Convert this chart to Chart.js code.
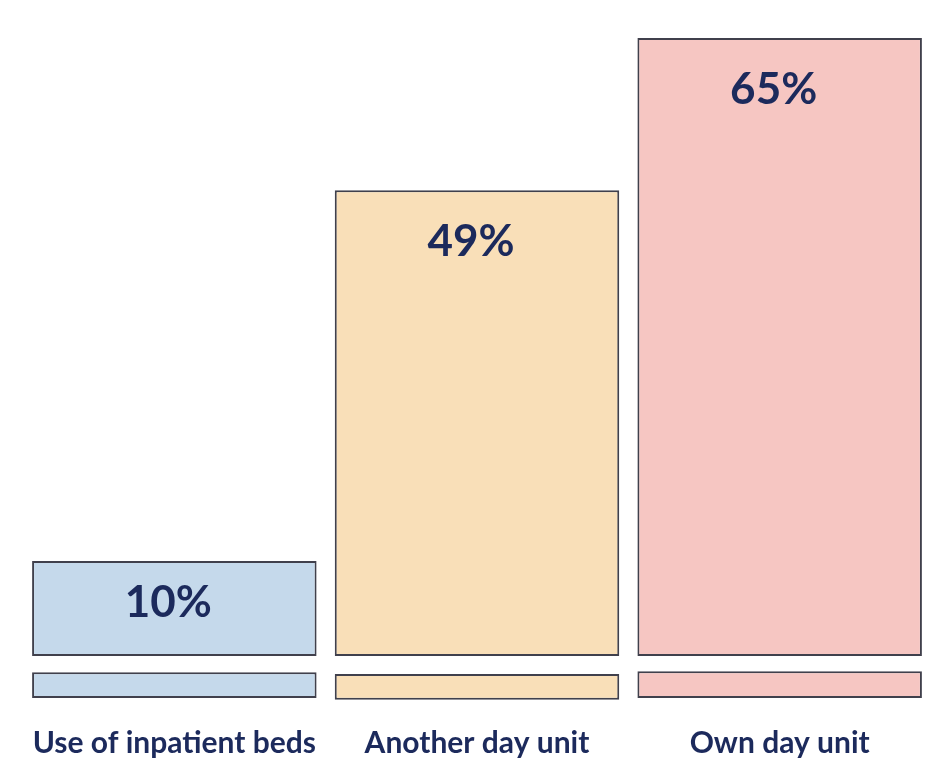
<!DOCTYPE html>
<html>
<head>
<meta charset="utf-8">
<script src="https://cdn.jsdelivr.net/npm/chart.js@4.4.1/dist/chart.umd.min.js"></script>
<style>
html,body{margin:0;padding:0;background:#ffffff;}
#wrap{width:933px;height:765px;position:relative;}
</style>
</head>
<body>
<div id="wrap"><canvas id="c" width="933" height="765"></canvas></div>
<script>
const categories = ["Use of inpatient beds", "Another day unit", "Own day unit"];
const percentValues = [10, 49, 65];
const baseBoxes = [[-1.7, -4.4], [-1.9, -4.6], [-1.6, -4.4]];
const fillColors = ["#c5d9eb", "#f9dfb8", "#f6c6c2"];
const edgeColor = "#40404c";
const textColor = "#1c2a5c";

const valueLabels = {
  id: 'valueLabels',
  afterDatasetsDraw(chart) {
    const ctx = chart.ctx;
    const meta = chart.getDatasetMeta(0);
    ctx.save();
    ctx.font = 'bold 44px Lato, "Open Sans", sans-serif';
    ctx.fillStyle = textColor;
    ctx.textAlign = 'center';
    ctx.textBaseline = 'middle';
    meta.data.forEach((el, i) => {
      const h = el.base - el.y;
      const y = h < 140 ? (el.y + el.base) / 2 - 6 : el.y + 52;
      ctx.fillText(percentValues[i] + '%', el.x - 6, y);
    });
    ctx.restore();
  }
};

new Chart(document.getElementById('c'), {
  type: 'bar',
  data: {
    labels: categories,
    datasets: [
      {
        data: percentValues,
        backgroundColor: fillColors,
        borderColor: edgeColor,
        borderWidth: 2,
        borderSkipped: false,
        barPercentage: 0.94,
        categoryPercentage: 1
      },
      {
        data: baseBoxes,
        backgroundColor: fillColors,
        borderColor: edgeColor,
        borderWidth: 2,
        borderSkipped: false,
        barPercentage: 0.94,
        categoryPercentage: 1
      }
    ]
  },
  options: {
    responsive: false,
    animation: false,
    devicePixelRatio: 1,
    layout: { padding: { left: 23, right: 2, top: 19, bottom: 0 } },
    plugins: { legend: { display: false }, tooltip: { enabled: false } },
    scales: {
      x: {
        stacked: true,
        grid: { display: false, drawTicks: false },
        border: { display: false },
        ticks: {
          padding: 4,
          color: textColor,
          font: { family: 'Lato, "Open Sans", sans-serif', weight: 'bold', size: 30 }
        }
      },
      y: {
        stacked: false,
        display: false,
        min: -6.83,
        max: 67
      }
    }
  },
  plugins: [valueLabels]
});
</script>
</body>
</html>
